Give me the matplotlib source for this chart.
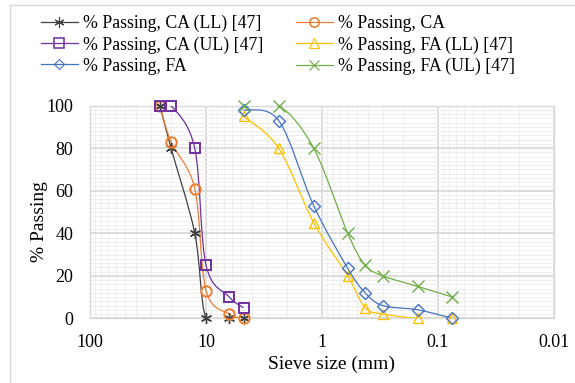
import numpy as np
import matplotlib
matplotlib.use("Agg")
import matplotlib.pyplot as plt
from matplotlib.path import Path
from matplotlib.patches import PathPatch
from matplotlib.lines import Line2D
from matplotlib.ticker import FixedLocator, FixedFormatter, MultipleLocator

plt.rcParams['font.family'] = ['Liberation Serif', 'DejaVu Serif']

# ---- data ----
ca_sieve = [25, 20, 12.5, 10, 6.3, 4.75]
ca_ll = [100, 80, 40, 0, 0, 0]
ca = [100, 83, 61, 13, 2, 0]
ca_ul = [100, 100, 80, 25, 10, 5]

fa_sieve = [4.75, 2.36, 1.18, 0.6, 0.425, 0.3, 0.15, 0.075]
fa_ll = [95, 80, 45, 20, 5, 2, 0, 0]
fa = [98, 93, 53, 23.5, 12, 6, 4, 0]
fa_ul = [100, 100, 80, 40, 25, 20, 15, 10]

x_ticks = [100, 10, 1, 0.1, 0.01]
x_tick_labels = ["100", "10", "1", "0.1", "0.01"]
y_ticks = [0, 20, 40, 60, 80, 100]

labels = ["% Passing, CA (LL) [47]", "% Passing, CA", "% Passing, CA (UL) [47]",
          "% Passing, FA (LL) [47]", "% Passing, FA", "% Passing, FA (UL) [47]"]

W, H = 575, 383
fig = plt.figure(figsize=(W / 100, H / 100), dpi=100)
L, R, T, B = 90, 554, 105.7, 318.3
ax = fig.add_axes([L / W, 1 - B / H, (R - L) / W, (B - T) / H])

ax.set_xscale('log')
ax.set_xlim(100, 0.01)
ax.set_ylim(0, 100)

# pixels per decade / per percent (for Excel-like smoothing in screen space)
sx = (R - L) / 4.0
sy = (B - T) / 100.0


def smooth_path(xs, ys):
    P = np.column_stack([np.log10(np.asarray(xs, float)) * sx, np.asarray(ys, float) * sy])
    n = len(P)
    verts = [P[0]]
    codes = [Path.MOVETO]
    for i in range(n - 1):
        p0 = P[i - 1] if i > 0 else P[i]
        p3 = P[i + 2] if i + 2 < n else P[i + 1]
        c1 = P[i] + (P[i + 1] - p0) / 6.0
        c2 = P[i + 1] - (p3 - P[i]) / 6.0
        verts += [c1, c2, P[i + 1]]
        codes += [Path.CURVE4] * 3
    V = np.array(verts)
    V[:, 0] = 10 ** (V[:, 0] / sx)
    V[:, 1] = V[:, 1] / sy
    return Path(V, codes)


series = [
    (ca_sieve, ca_ll, '#404040', (6, 2, 0), 8, 1.0),
    (ca_sieve, ca, '#ED7D31', 'o', 7.5, 1.4),
    (ca_sieve, ca_ul, '#7030A0', 's', 7.5, 1.4),
    (fa_sieve, fa_ll, '#FFC000', '^', 7.5, 1.0),
    (fa_sieve, fa, '#4472C4', 'D', 6, 1.0),
    (fa_sieve, fa_ul, '#70AD47', 'x', 8, 1.0),
]

handles = []
for (xs, ys, col, mk, ms, mew), lab in zip(series, labels):
    ax.add_patch(PathPatch(smooth_path(xs, ys), fill=False, edgecolor=col, lw=0.9, zorder=3))
    ax.plot(xs, ys, ls='none', marker=mk, ms=ms, mfc='none', mec=col, mew=mew, zorder=4, clip_on=False)
    handles.append(Line2D([], [], color=col, lw=0.9, marker=mk, ms=ms * 0.9, mfc='none', mec=col, mew=mew * 0.8, label=lab))

# grid
ax.xaxis.set_major_locator(FixedLocator(x_ticks))
ax.xaxis.set_major_formatter(FixedFormatter(x_tick_labels))
ax.yaxis.set_major_locator(FixedLocator(y_ticks))
ax.yaxis.set_minor_locator(MultipleLocator(2))
ax.grid(True, which='major', color='#d9d9d9', lw=1.3, zorder=0)
ax.grid(True, which='minor', color='#eeeeee', lw=0.8, zorder=0)
ax.set_axisbelow(True)
ax.tick_params(which='both', length=0)
ax.tick_params(axis='y', pad=12, labelsize=13)
ax.tick_params(axis='x', pad=11, labelsize=13)
for s in ax.spines.values():
    s.set_color('#d9d9d9')
    s.set_linewidth(1.0)

ax.set_xlabel("Sieve size (mm)", fontsize=14)
ax.set_ylabel("% Passing", fontsize=14)
ax.xaxis.set_label_coords((332 - L) / (R - L), -(364 - B) / (B - T))
ax.yaxis.set_label_coords(-(90 - 39) / (R - L), (B - 222) / (B - T))
ax.xaxis.label.set_va('center')
ax.yaxis.label.set_va('center')

order = [0, 2, 4, 1, 3, 5]
fig.legend([handles[i] for i in order], [labels[i] for i in order], ncol=2,
           loc='center', bbox_to_anchor=(278 / W, 1 - 45 / H), frameon=False,
           fontsize=12.8, handlelength=2.1, handletextpad=0.3, columnspacing=1.8,
           labelspacing=0.22, borderpad=0)

# outer chart border
fig.add_artist(Line2D([10 / W, 10 / W], [0, 1 - 5 / H], color='#d9d9d9', lw=1.0))
fig.add_artist(Line2D([10 / W, 1], [1 - 5 / H, 1 - 5 / H], color='#d9d9d9', lw=1.0))

fig.savefig("out.png", dpi=100)
